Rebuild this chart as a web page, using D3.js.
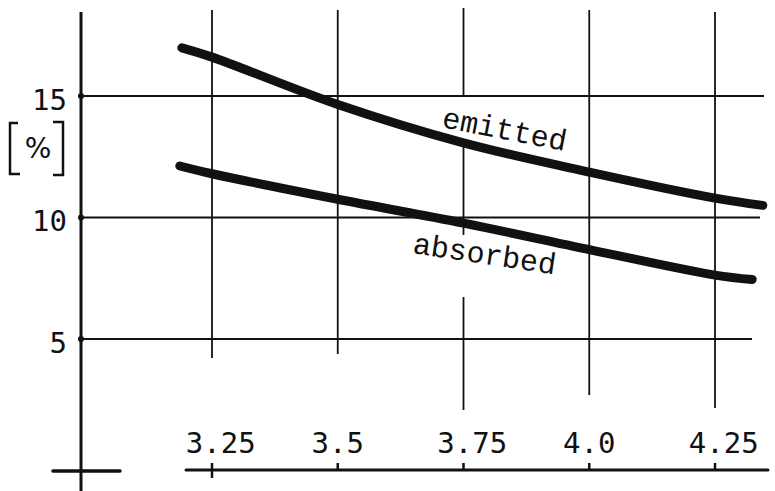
<!DOCTYPE html>
<html>
<head>
<meta charset="utf-8">
<script src="https://cdn.jsdelivr.net/npm/d3@7"></script>
<style>
  html, body { margin: 0; padding: 0; background: #fff; }
  svg { display: block; }
</style>
</head>
<body>
<svg id="chart" width="775" height="491"></svg>
<script>
// ---- data ----
const xTicks = [3.25, 3.5, 3.75, 4.0, 4.25];
const xTickLabels = ["3.25", "3.5", "3.75", "4.0", "4.25"];
const yTicks = [5, 10, 15];
const yTickLabels = ["5", "10", "15"];
const emittedX = [3.19, 3.25, 3.5, 3.75, 4.0, 4.25, 4.345];
const emittedY = [16.98, 16.6, 14.65, 13.07, 11.87, 10.8, 10.5];
const absorbedX = [3.186, 3.25, 3.5, 3.75, 4.0, 4.25, 4.324];
const absorbedY = [12.12, 11.8, 10.75, 9.77, 8.68, 7.63, 7.45];
const seriesNames = ["emitted", "absorbed"];
const unitLabel = "%";

// ---- layout ----
const svg = d3.select("#chart");
const x = d3.scaleLinear().domain([3.25, 4.25]).range([212, 715]);
const y = d3.scaleLinear().domain([5, 15]).range([339, 96]);
const axisX = 81, axisBottomY = 470;
const ink = "#111";

// vertical grid segments (pixel extents per tick)
const vSpans = [
  [[10, 358]],
  [[10, 354]],
  [[8, 96], [143, 235], [297, 410]],
  [[10, 395]],
  [[12, 408]]
];
const hEnds = {5: 752, 10: 760, 15: 764};

const g = svg.append("g");

// horizontal gridlines
g.selectAll(".hgrid").data(yTicks).join("line")
  .attr("x1", axisX).attr("x2", d => hEnds[d])
  .attr("y1", d => y(d)).attr("y2", d => y(d))
  .attr("stroke", ink).attr("stroke-width", 1.8);

// vertical gridlines
xTicks.forEach((t, i) => {
  vSpans[i].forEach(s => {
    g.append("line")
      .attr("x1", x(t)).attr("x2", x(t))
      .attr("y1", s[0]).attr("y2", s[1])
      .attr("stroke", ink).attr("stroke-width", 1.8);
  });
});

// y axis
g.append("line").attr("x1", axisX).attr("x2", axisX).attr("y1", 12).attr("y2", 491)
  .attr("stroke", ink).attr("stroke-width", 3);
g.selectAll(".ydot").data(yTicks).join("circle")
  .attr("cx", axisX).attr("cy", d => y(d)).attr("r", 3).attr("fill", ink);
// bottom-left cross
g.append("line").attr("x1", 53).attr("x2", 120).attr("y1", 471).attr("y2", 471)
  .attr("stroke", ink).attr("stroke-width", 3.5).attr("stroke-linecap", "round");

// x axis line
g.append("line").attr("x1", 186).attr("x2", 768).attr("y1", axisBottomY).attr("y2", axisBottomY)
  .attr("stroke", ink).attr("stroke-width", 3).attr("stroke-linecap", "round");
xTicks.forEach((t, i) => {
  g.append("line").attr("x1", x(t)).attr("x2", x(t))
    .attr("y1", axisBottomY - 7).attr("y2", i === 0 ? axisBottomY + 8 : axisBottomY)
    .attr("stroke", ink).attr("stroke-width", 2.5);
});

// tick labels
const fs = 29, cw = 0.602 * fs;
g.selectAll(".xlab").data(xTicks).join("text")
  .attr("x", d => x(d) - 1.5 * cw).attr("y", 453)
  .attr("font-family", "DejaVu Sans Mono").attr("font-size", fs)
  .attr("fill", ink)
  .text((d, i) => xTickLabels[i]);
g.selectAll(".ylab").data(yTicks).join("text")
  .attr("x", 67).attr("y", d => y(d) + 13.5)
  .attr("text-anchor", "end")
  .attr("font-family", "DejaVu Sans Mono").attr("font-size", fs)
  .attr("fill", ink)
  .text((d, i) => yTickLabels[i]);

// unit label [%]
g.append("path").attr("d", "M18,123 L10,123 L10,174 L20,174")
  .attr("fill", "none").attr("stroke", ink).attr("stroke-width", 2.5);
g.append("path").attr("d", "M53,122 L63,122 L63,175 L53,175")
  .attr("fill", "none").attr("stroke", ink).attr("stroke-width", 2.5);
g.append("text").attr("x", 38).attr("y", 158).attr("text-anchor", "middle")
  .attr("font-family", "DejaVu Sans").attr("font-size", 28).attr("fill", ink)
  .text(unitLabel);

// curves
const line = d3.line().x(d => x(d[0])).y(d => y(d[1])).curve(d3.curveCatmullRom.alpha(0.5));
const series = [d3.zip(emittedX, emittedY), d3.zip(absorbedX, absorbedY)];
g.selectAll(".curve").data(series).join("path")
  .attr("d", line)
  .attr("fill", "none").attr("stroke", ink).attr("stroke-width", 9)
  .attr("stroke-linecap", "round").attr("stroke-linejoin", "round");

// series labels
const labelPos = [[441, 127, 11], [412, 253, 8.5]];
seriesNames.forEach((n, i) => {
  const [lx, ly, r] = labelPos[i];
  g.append("text")
    .attr("x", lx).attr("y", ly)
    .attr("transform", `rotate(${r},${lx},${ly})`)
    .attr("font-family", "Liberation Mono").attr("font-size", 30)
    .attr("fill", ink)
    .text(n);
});
</script>
</body>
</html>
